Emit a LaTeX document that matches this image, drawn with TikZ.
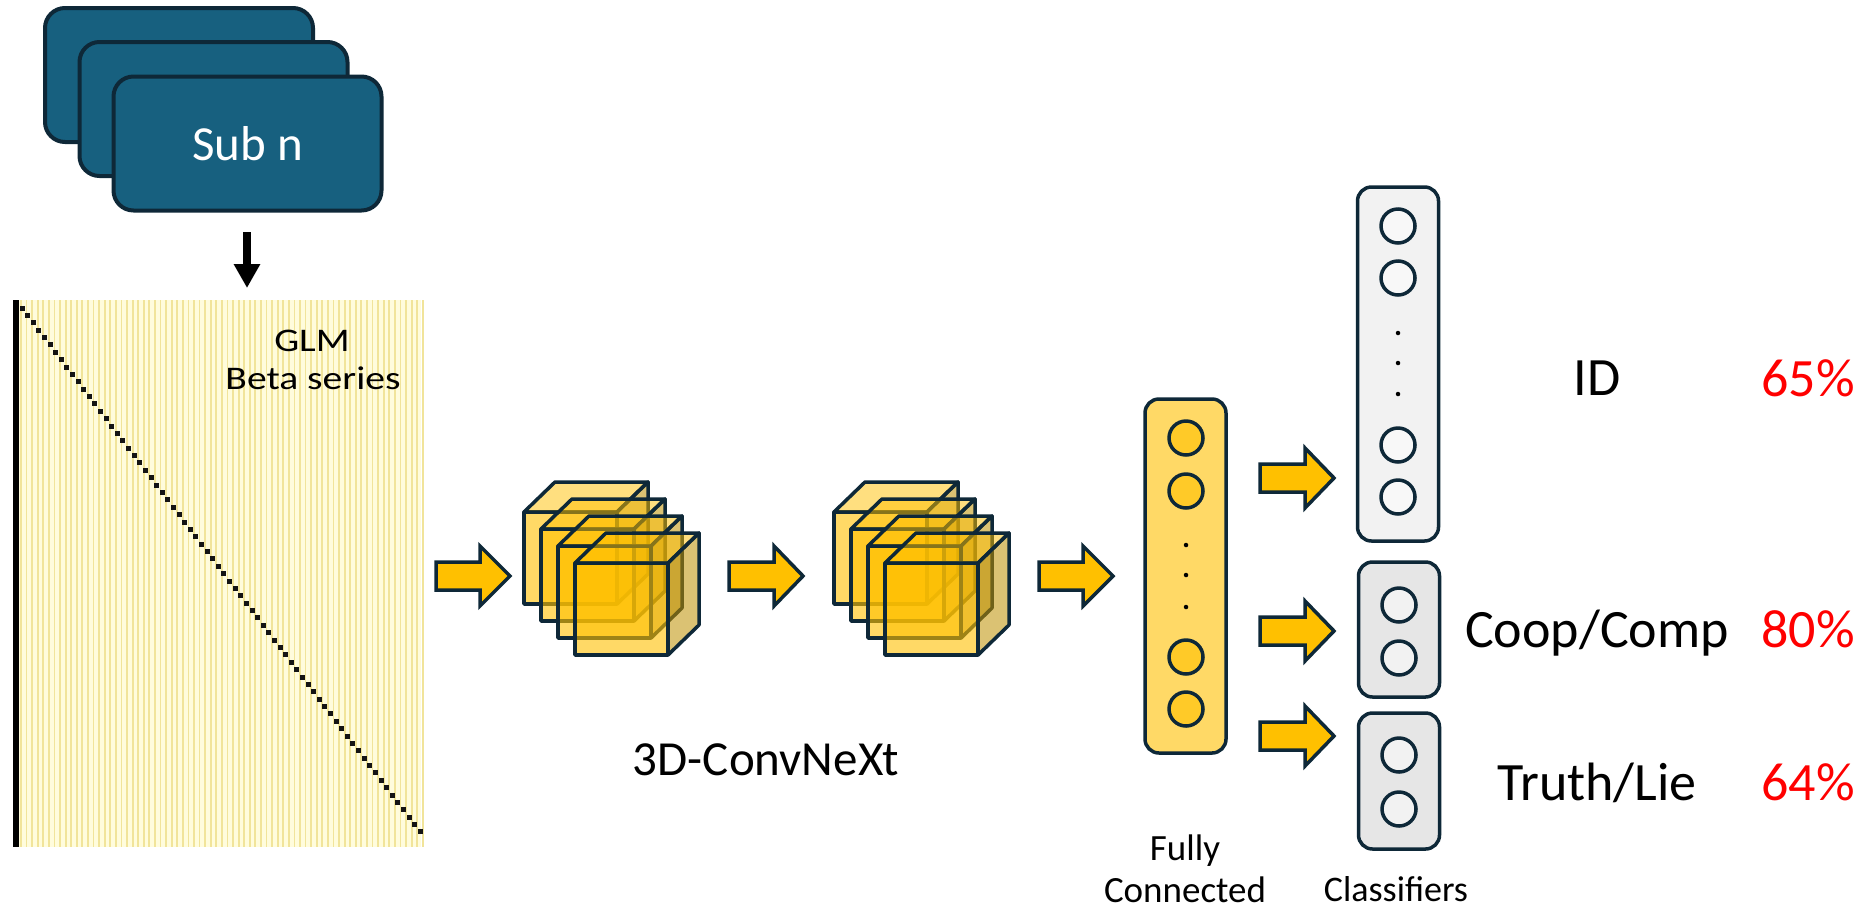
\documentclass[tikz,border=0pt]{standalone}
\usepackage{fontspec}
\setmainfont{Carlito}
\usetikzlibrary{arrows.meta}

\definecolor{subblue}{HTML}{17607F}
\definecolor{ink}{HTML}{0E2838}
\definecolor{gold}{HTML}{FFC000}
\definecolor{goldside}{HTML}{BF9000}
\definecolor{fcfill}{HTML}{FFD966}
\definecolor{fcunit}{HTML}{FFCA28}
\definecolor{idfill}{HTML}{F2F2F2}
\definecolor{clsfill}{HTML}{E6E6E6}
\definecolor{unitfill}{HTML}{F8F8F8}
\definecolor{glmbg}{HTML}{FFFCDC}
\definecolor{glmline}{HTML}{F1E49A}
\definecolor{accred}{HTML}{FF0000}

\tikzset{
  subbox/.style={draw=ink, fill=subblue, line width=4pt, rounded corners=20pt,
    minimum width=268pt, minimum height=134pt, inner sep=0pt},
  blockarrowstyle/.style={draw=ink, fill=gold, line width=3.5pt, line join=miter},
  cubefront/.style={draw=ink, line width=3.5pt, line join=round, fill=gold, fill opacity=0.6},
  cubetop/.style={draw=ink, line width=3.5pt, line join=round, fill=gold, fill opacity=0.5},
  cubeside/.style={draw=ink, line width=3.5pt, line join=round, fill=goldside, fill opacity=0.55},
  column/.style={draw=ink, line width=3.5pt, rounded corners=14pt, minimum width=81pt, inner sep=0pt},
  fcunitstyle/.style={circle, draw=ink, fill=fcunit, line width=3.5pt, minimum size=34pt, inner sep=0pt},
  clsunit/.style={circle, draw=ink, fill=unitfill, line width=3.5pt, minimum size=34pt, inner sep=0pt},
  smalldot/.style={circle, fill=black, minimum size=4.5pt, inner sep=0pt},
  lbl/.style={inner sep=0pt, anchor=base},
  pics/blockarrow/.style 2 args={code={
    \draw[blockarrowstyle] (0,-14) -- ({#1-#2},-14) -- ({#1-#2},-30) -- (#1,0)
      -- ({#1-#2},30) -- ({#1-#2},14) -- (0,14) -- cycle;
  }},
  pics/cube/.style={code={
    \filldraw[cubefront] (0,0) rectangle (93,92);
    \filldraw[cubetop] (0,0) -- (31,-30) -- (124,-30) -- (93,0) -- cycle;
    \filldraw[cubeside] (93,0) -- (124,-30) -- (124,62) -- (93,92) -- cycle;
  }},
}

\begin{document}
\begin{tikzpicture}[x=1pt, y=-1pt]
\useasboundingbox[fill=white] (0,0) rectangle (1876,914);

% stacked subject cards
\node[subbox] (sub1) at (179,75) {};
\node[subbox] (sub2) at (213.5,109) {};
\node[subbox, text=white, font=\fontsize{49pt}{59pt}\selectfont] (sub3) at (247.5,143.5) {Sub n};

% GLM design matrix
\coordinate (glmtl) at (13,300);
\coordinate (glmbr) at (421,847);
\fill[glmbg] (glmtl) rectangle (glmbr);
\foreach \k in {0,...,72} {
  \draw[glmline, line width=1.8pt] ({21+\k*5.58},300) -- ({21+\k*5.58},847);
}
\fill[black] (13,300) rectangle (19,847);
\foreach \k in {0,...,71} {
  \fill[black!92] ({22+\k*5.61-2.5},{308+\k*7.38-2.5}) rectangle ++(5,5);
}
\node[lbl, font=\fontsize{33pt}{38pt}\selectfont] (glm1) at (312,351) {\scalebox{1.2}[1]{GLM}};
\node[lbl, font=\fontsize{33pt}{38pt}\selectfont] (glm2) at (313,389) {\scalebox{1.2}[1]{Beta series}};

% arrow from the subject cards down to the matrix
\coordinate (dtop) at (247,232);
\coordinate (dbot) at (247,288);
\draw[line width=8pt, -{Triangle[width=25pt, length=24pt]}] (dtop) -- (dbot);

% arrows and 3D conv blocks
\pic (arrA) at (436,576) {blockarrow={74}{30}};
\foreach \i in {0,...,3} {
  \pic (cubeA\i) at ({524+\i*17},{512+\i*17}) {cube};
}
\pic (arrB) at (729,576) {blockarrow={74}{29}};
\foreach \i in {0,...,3} {
  \pic (cubeB\i) at ({834+\i*17},{512+\i*17}) {cube};
}
\node[lbl, font=\fontsize{49pt}{59pt}\selectfont] (convlbl) at (766,775) {3D-ConvNeXt};

% fully connected layer
\pic (arrC) at (1039,576) {blockarrow={74}{30}};
\node[column, fill=fcfill, minimum height=354pt] (fc) at (1185.5,576) {};
\node[fcunitstyle] (fc1) at (1186,438) {};
\node[fcunitstyle] (fc2) at (1186,491) {};
\node[smalldot] (fcd1) at (1186,545) {};
\node[smalldot] (fcd2) at (1186,575) {};
\node[smalldot] (fcd3) at (1186,607) {};
\node[fcunitstyle] (fc3) at (1186,657) {};
\node[fcunitstyle] (fc4) at (1186,709) {};
\node[lbl, font=\fontsize{37pt}{41pt}\selectfont] (fclbl1) at (1185,860) {Fully};
\node[lbl, font=\fontsize{37pt}{41pt}\selectfont] (fclbl2) at (1185,902) {Connected};

% classifier heads
\pic (arrID) at (1260,478) {blockarrow={74}{29}};
\pic (arrCC) at (1260,631) {blockarrow={74}{29}};
\pic (arrTL) at (1260,736) {blockarrow={74}{29}};

\node[column, fill=idfill, minimum height=354pt] (idbox) at (1398,364) {};
\node[clsunit] (id1) at (1398,226) {};
\node[clsunit] (id2) at (1398,278) {};
\node[smalldot] (idd1) at (1398,333) {};
\node[smalldot] (idd2) at (1398,363) {};
\node[smalldot] (idd3) at (1398,394) {};
\node[clsunit] (id3) at (1398,445) {};
\node[clsunit] (id4) at (1398,497) {};

\node[column, fill=clsfill, minimum height=135pt] (ccbox) at (1399,629.5) {};
\node[clsunit, fill=idfill] (cc1) at (1399,605) {};
\node[clsunit, fill=idfill] (cc2) at (1399,658) {};

\node[column, fill=clsfill, minimum height=136pt] (tlbox) at (1399,781) {};
\node[clsunit, fill=idfill] (tl1) at (1399,755) {};
\node[clsunit, fill=idfill] (tl2) at (1399,809) {};

\node[lbl, font=\fontsize{36pt}{40pt}\selectfont] (clslbl) at (1396,901) {Classifiers};

% task labels and accuracies
\node[lbl, font=\fontsize{54pt}{60pt}\selectfont] (idlbl) at (1597,395) {ID};
\node[lbl, anchor=base east, text=accred, font=\fontsize{54pt}{60pt}\selectfont] (idacc) at (1855,396) {65\%};
\node[lbl, font=\fontsize{54pt}{60pt}\selectfont] (cclbl) at (1597,647) {Coop/Comp};
\node[lbl, anchor=base east, text=accred, font=\fontsize{54pt}{60pt}\selectfont] (ccacc) at (1855,647) {80\%};
\node[lbl, font=\fontsize{54pt}{60pt}\selectfont] (tllbl) at (1597,800) {Truth/Lie};
\node[lbl, anchor=base east, text=accred, font=\fontsize{54pt}{60pt}\selectfont] (tlacc) at (1855,800) {64\%};
\end{tikzpicture}
\end{document}
